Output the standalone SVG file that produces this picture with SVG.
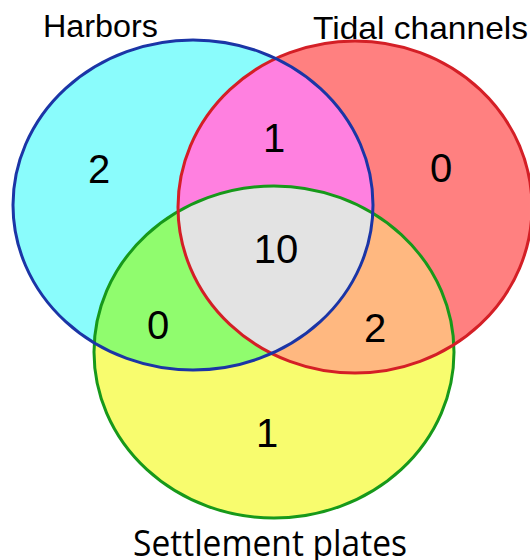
<svg xmlns="http://www.w3.org/2000/svg" width="530" height="560" viewBox="0 0 530 560">
<style>
.lbl{font-family:"Liberation Sans",Arial,sans-serif;fill:#000}
.num{font-family:"Liberation Sans",Arial,sans-serif;font-size:40px;fill:#000;text-anchor:middle}
.ol{fill:none;stroke-width:3}
</style>
<defs>
<ellipse id="eH" cx="193" cy="205" rx="180" ry="165"/>
<ellipse id="eT" cx="355" cy="207" rx="177" ry="166"/>
<ellipse id="eS" cx="274" cy="352" rx="180" ry="166"/>
<clipPath id="cH"><use href="#eH"/></clipPath>
<clipPath id="cT"><use href="#eT"/></clipPath>
<clipPath id="cS"><use href="#eS"/></clipPath>
</defs>
<rect width="530" height="560" fill="#fff"/>
<g id="fills">
<use href="#eH" fill="#8afcfc"/>
<use href="#eT" fill="#ff8080"/>
<use href="#eS" fill="#f8fc6e"/>
<g clip-path="url(#cH)"><use href="#eT" fill="#ff80e0"/></g>
<g clip-path="url(#cH)"><use href="#eS" fill="#90fc6e"/></g>
<g clip-path="url(#cT)"><use href="#eS" fill="#ffb880"/></g>
<g clip-path="url(#cH)"><g clip-path="url(#cT)"><use href="#eS" fill="#e3e3e3"/></g></g>
</g>
<g id="outlines">
<use href="#eS" class="ol" stroke="#17991a"/>
<use href="#eT" class="ol" stroke="#d41f26"/>
<use href="#eH" class="ol" stroke="#1b35a6"/>
</g>
<g id="harbors"><text class="lbl" x="43" y="37" font-size="31" textLength="115" lengthAdjust="spacingAndGlyphs">Harbors</text></g>
<g id="tidal"><text class="lbl" x="313" y="39" font-size="32" textLength="215" lengthAdjust="spacingAndGlyphs">Tidal channels</text></g>
<g id="settlement"><text x="133" y="556" font-family="'Open Sans','Liberation Sans',sans-serif" font-size="36" textLength="274" lengthAdjust="spacingAndGlyphs">Settlement plates</text></g>
<g id="counts">
<text class="num" x="99" y="183">2</text>
<text class="num" x="274" y="152">1</text>
<text class="num" x="441" y="182">0</text>
<text class="num" x="276" y="263">10</text>
<text class="num" x="158" y="339">0</text>
<text class="num" x="375" y="342">2</text>
<text class="num" x="267" y="447">1</text>
</g>
</svg>
